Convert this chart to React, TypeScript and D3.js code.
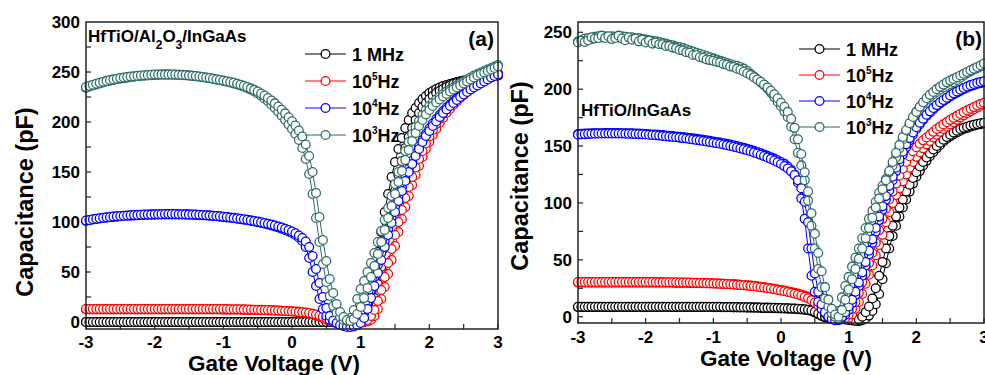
import React from "react";
import * as d3 from "d3";

// gate voltage sweep grid: -3 V .. 3 V, 0.05 V step (121 points)
const gateV = d3.range(121).map((i) => Math.round((-3 + i * 0.05) * 100) / 100);

const freqColors = ["#000000", "#ff0000", "#0000ff", "#2f6d67"];
const legendBase = ["1 MHz", "10", "10", "10"];
const legendSup = ["", "5", "4", "3"];
const legendTail = ["", "Hz", "Hz", "Hz"];

const xTicks = [-3, -2, -1, 0, 1, 2, 3];
const aYTicks = [0, 50, 100, 150, 200, 250, 300];
const bYTicks = [0, 50, 100, 150, 200, 250];

// [text, isSubscript]
const aNote: [string, boolean][] = [["HfTiO/Al", false], ["2", true], ["O", false], ["3", true], ["/InGaAs", false]];
const bNote: [string, boolean][] = [["HfTiO/InGaAs", false]];

// ---------- panel (a): HfTiO/Al2O3/InGaAs ----------
const aMHzUp = [
  0, 0, 0, 0, 0, 0, 0, 0, 0, 0, 0, 0, 0, 0, 0, 0, 0, 0, 0, 0,
  0, 0, 0, 0, 0, 0, 0, 0, 0, 0, 0, 0, 0, 0, 0, 0, 0, 0, 0, 0,
  0, 0, 0, 0, 0, 0, 0, 0, 0, 0, 0, 0, 0, 0, 0, 0, 0, 0, 0, 0,
  0, 0, 0, 0, 0, 0, 0, 0, 0, 0, 0, 0, 0, 0, -0.5, -0.5, -0.5, -0.5, -0.5, -0.5,
  0, 5, 18, 33, 50, 70, 90, 110, 128, 145, 160, 173, 184, 194, 202, 209, 214, 219, 223, 226,
  229, 231, 233, 234.5, 236, 237, 238, 239, 240, 240.8, 241.5, 242, 242.5, 243, 243.5, 244, 244.5, 245, 245.5, 246,
  246.5,
];
const aMHzDown = [
  0, 0, 0, 0, 0, 0, 0, 0, 0, 0, 0, 0, 0, 0, 0, 0, 0, 0, 0, 0,
  0, 0, 0, 0, 0, 0, 0, 0, 0, 0, 0, 0, 0, 0, 0, 0, 0, 0, 0, 0,
  0, 0, 0, 0, 0, 0, 0, 0, 0, 0, 0, 0, 0, 0, 0, 0, 0, 0, 0, 0,
  0, 0, 0, 0, 0, 0, 0, 0, 0, 0, 0, 0, 0, 0, -0.5, -0.5, -0.5, -0.5, -0.5, -0.5,
  -0.5, 0, 3, 12, 24, 38, 55, 74, 94, 113, 131, 147, 161, 174, 185, 194, 202, 209, 215, 219,
  223, 226, 229, 231, 233, 235, 236.5, 238, 239, 240, 241, 241.8, 242.4, 243, 243.5, 244, 244.5, 245, 245.5, 246,
  246.5,
];
const a100kUp = [
  12.5, 12.5, 12.5, 12.5, 12.5, 12.5, 12.5, 12.5, 12.5, 12.5, 12.5, 12.5, 12.5, 12.5, 12.5, 12.5, 12.5, 12.5, 12.5, 12.5,
  12.5, 12.5, 12.5, 12.5, 12.5, 12.5, 12.5, 12.5, 12.5, 12.5, 12.5, 12.5, 12.5, 12.5, 12.5, 12.5, 12.5, 12.5, 12.5, 12.5,
  12.4, 12.4, 12.3, 12.3, 12.2, 12.2, 12.1, 12.1, 12, 12, 11.9, 11.8, 11.7, 11.6, 11.5, 11.4, 11.3, 11.1, 10.9, 10.7,
  10.5, 10.2, 9.9, 9.5, 9, 8.4, 7.6, 6.6, 5.4, 4, 2.6, 1.4, 0.6, 0.1, 0, -0.3, -0.5, -0.6, -0.6, -0.5,
  -0.3, 0, 0.5, 2, 6, 13, 23, 35, 48, 62, 76, 90, 103, 115, 126, 137, 147, 156, 165, 173,
  180, 187, 193, 199, 204, 209, 213, 217, 220.5, 224, 227, 230, 232.5, 235, 237, 239, 241, 243, 244.5, 246,
  247.5,
];
const a100kDown = [
  13, 13, 13, 13, 13, 13, 13, 13, 13, 13, 13, 13, 13, 13, 13, 13, 13, 13, 13, 13,
  13, 13, 13, 13, 13, 13, 13, 13, 13, 13, 13, 13, 13, 13, 13, 13, 13, 13, 13, 13,
  12.9, 12.9, 12.8, 12.8, 12.7, 12.7, 12.6, 12.5, 12.4, 12.3, 12.2, 12.1, 12, 11.9, 11.8, 11.6, 11.4, 11.2, 11, 10.8,
  10.6, 10.4, 10.1, 9.8, 9.4, 8.9, 8.3, 7.5, 6.5, 5.2, 3.8, 2.4, 1.2, 0.4, 0, -0.3, -0.5, -0.6, -0.6, -0.5,
  -0.2, 0.5, 2, 6, 12, 21, 32, 45, 59, 73, 87, 100, 112, 124, 135, 145, 154.5, 163, 171, 178.5,
  185.5, 192, 198, 203.5, 208.5, 213, 217, 220.5, 224, 227, 230, 232.5, 235, 237, 239, 241, 243, 244.5, 246, 247.5,
  249,
];
const a10kUp = [
  101, 101.8, 102.5, 103, 103.5, 104, 104.4, 104.8, 105.1, 105.4, 105.7, 106, 106.2, 106.4, 106.6, 106.8, 107, 107.1, 107.2, 107.3,
  107.4, 107.5, 107.5, 107.6, 107.6, 107.6, 107.6, 107.5, 107.5, 107.4, 107.3, 107.2, 107.1, 106.9, 106.7, 106.5, 106.3, 106, 105.7, 105.4,
  105, 104.6, 104.2, 103.8, 103.3, 102.8, 102.3, 101.7, 101.1, 100.5, 99.8, 99.1, 98.3, 97.5, 96.6, 95.6, 94.5, 93.3, 92, 90.6,
  89, 87, 84.5, 81, 75, 64, 50, 36, 23, 13, 6, 2, 0, -1.5, -2.5, -3.5, -4, -4, -3.5, -1.5,
  2, 9, 20, 32, 45, 57, 69, 81, 93, 104, 115, 125, 135, 144, 153, 161, 168.5, 175.5, 182, 188,
  193.5, 198.5, 203, 207, 211, 214.5, 217.5, 220.5, 223.5, 226, 228.5, 231, 233.5, 235.5, 237.5, 239.5, 241.5, 243.5, 245, 246.5,
  248,
];
const a10kDown = [
  101.5, 102, 102.8, 103.3, 103.8, 104.3, 104.7, 105, 105.4, 105.7, 106, 106.2, 106.5, 106.7, 106.9, 107.1, 107.3, 107.4, 107.5, 107.6,
  107.7, 107.8, 107.8, 107.9, 107.9, 107.9, 107.9, 107.8, 107.8, 107.7, 107.6, 107.5, 107.4, 107.2, 107, 106.8, 106.6, 106.3, 106, 105.7,
  105.3, 104.9, 104.5, 104.1, 103.7, 103.2, 102.7, 102.2, 101.6, 101, 100.4, 99.7, 99, 98.2, 97.4, 96.5, 95.5, 94.4, 93.2, 91.9,
  90.5, 88.7, 86.5, 84, 80.5, 75, 66, 53, 39, 25, 14, 6, 1.5, -1, -3, -4, -5, -5, -4.5, -3,
  -1, 4, 13, 24, 36, 49, 62, 75, 87, 99, 110, 121, 131, 141, 150, 158, 166, 173, 180, 186,
  191, 196, 200.5, 205, 209, 212.5, 216, 219, 222, 225, 227.5, 230, 232.5, 234.5, 236.5, 238.5, 240.5, 242.5, 244.5, 246,
  247.5,
];
const a1kUp = [
  234, 235.5, 236.5, 237.5, 238.5, 239.5, 240.5, 241.3, 242, 242.7, 243.3, 243.9, 244.4, 244.9, 245.3, 245.7, 246, 246.3, 246.6, 246.8,
  247, 247.1, 247.2, 247.3, 247.3, 247.3, 247.2, 247.1, 246.9, 246.7, 246.4, 246.1, 245.7, 245.3, 244.8, 244.3, 243.7, 243.1, 242.4, 241.7,
  241, 240.3, 239.5, 238.6, 237.6, 236.5, 235.2, 233.8, 232.2, 230.5, 228.5, 226.2, 223.6, 220.7, 217.5, 214, 210.3, 206.3, 202, 197.5,
  193, 188, 182, 174, 163, 148, 128, 104, 80, 58, 40, 26, 16, 9, 5, 2, 1, 4, 12, 23,
  33, 41, 50, 59, 69, 80, 91, 102, 114, 126, 138, 150, 161, 171, 180, 188, 195, 201, 207, 212,
  216, 219.5, 222.5, 225.5, 228, 230.5, 232.5, 234.5, 236.5, 238.5, 240.5, 242.5, 244.5, 246.5, 248, 249.5, 251, 252.5, 254, 255.5,
  257,
];
const a1kDown = [
  235, 236.3, 237.3, 238.3, 239.3, 240.3, 241.1, 241.9, 242.6, 243.3, 243.9, 244.5, 245, 245.4, 245.8, 246.2, 246.5, 246.8, 247, 247.2,
  247.4, 247.5, 247.6, 247.6, 247.6, 247.5, 247.4, 247.3, 247.1, 246.9, 246.6, 246.3, 245.9, 245.5, 245, 244.5, 243.9, 243.3, 242.7, 242,
  241.4, 240.7, 240, 239.2, 238.3, 237.3, 236.2, 235, 233.6, 232.1, 230.4, 228.5, 226.4, 224, 221.4, 218.6, 215.5, 212.2, 208.6, 204.8,
  200.8, 196.5, 191.5, 185.5, 177.5, 166, 150, 129, 105, 82, 61, 43, 29, 18, 10, 5, 2, 1, 3, 8,
  15, 24, 34, 45, 56, 68, 80, 92, 104, 116, 128, 140, 151, 162, 172, 181, 189, 196, 202, 207.5,
  212, 216, 219.5, 222.5, 225.5, 228, 230.5, 232.5, 234.5, 236.5, 238.5, 240.5, 242.5, 244.5, 246.5, 248, 249.5, 251, 252.5, 254,
  255.5,
];

// ---------- panel (b): HfTiO/InGaAs ----------
const bMHzUp = [
  8.5, 8.5, 8.5, 8.5, 8.5, 8.5, 8.5, 8.5, 8.5, 8.5, 8.5, 8.5, 8.5, 8.5, 8.5, 8.5, 8.5, 8.5, 8.5, 8.5,
  8.5, 8.5, 8.5, 8.5, 8.5, 8.5, 8.5, 8.5, 8.5, 8.5, 8.5, 8.5, 8.5, 8.5, 8.5, 8.5, 8.5, 8.5, 8.5, 8.5,
  8.4, 8.4, 8.4, 8.3, 8.3, 8.3, 8.2, 8.2, 8.1, 8.1, 8, 8, 7.9, 7.9, 7.8, 7.7, 7.7, 7.6, 7.5, 7.4,
  7.3, 7.2, 7.1, 7, 6.9, 6.7, 6.5, 6.2, 5.8, 5, 3.8, 2.2, 0.7, -0.5, -1.2, -1.6, -1.8, -2, -2, -2.2,
  -2.5, -3, -3.5, -4, -3, -1.5, 1, 5, 11, 20, 33, 47, 60, 71, 80, 88, 96, 103, 110, 117,
  123, 128, 133, 137, 141, 144.5, 148, 151, 154, 156.5, 158.5, 160.5, 162, 163.5, 165, 166, 167, 168, 168.7, 169.3,
  170,
];
const bMHzDown = [
  8.8, 8.8, 8.8, 8.8, 8.8, 8.8, 8.8, 8.8, 8.8, 8.8, 8.8, 8.8, 8.8, 8.8, 8.8, 8.8, 8.8, 8.8, 8.8, 8.8,
  8.8, 8.8, 8.8, 8.8, 8.8, 8.8, 8.8, 8.8, 8.8, 8.8, 8.8, 8.8, 8.8, 8.8, 8.8, 8.8, 8.8, 8.8, 8.8, 8.8,
  8.7, 8.7, 8.7, 8.6, 8.6, 8.6, 8.5, 8.5, 8.4, 8.4, 8.3, 8.3, 8.2, 8.2, 8.1, 8, 8, 7.9, 7.8, 7.7,
  7.6, 7.5, 7.4, 7.3, 7.2, 7, 6.8, 6.5, 6.1, 5.4, 4.3, 2.8, 1.2, 0, -0.9, -1.4, -1.8, -2, -2.2, -2.4,
  -2.8, -3.2, -3.5, -2.5, 0, 4, 9, 16, 25, 36, 48, 60, 71, 80, 88, 96, 103, 110, 116, 122,
  127, 132, 136, 140, 143.5, 147, 150, 153, 155.5, 158, 160, 162, 163.5, 165, 166, 167, 168, 168.7, 169.3, 170,
  170.5,
];
const b100kUp = [
  30, 30, 30, 30, 30, 30, 30, 30, 30, 30, 30, 30, 30, 30, 30, 30, 30, 30, 30, 30,
  30, 30, 30, 30, 30, 30, 29.9, 29.9, 29.9, 29.8, 29.8, 29.8, 29.7, 29.7, 29.6, 29.6, 29.5, 29.5, 29.4, 29.3,
  29.2, 29.1, 29, 28.9, 28.8, 28.6, 28.4, 28.2, 28, 27.8, 27.6, 27.4, 27.1, 26.8, 26.4, 26, 25.5, 25, 24.5, 24,
  23.5, 23, 22.4, 21.8, 21.1, 20.4, 19.6, 18.7, 17.6, 16.3, 14.5, 12, 9, 6, 3.5, 1.5, 0, -1, -1.5, -1.5,
  -1, 2, 7, 13, 20, 29, 37, 45, 54, 63, 72, 83, 92, 100, 107, 113, 119, 125, 131, 136,
  140.5, 144.5, 148, 151.5, 154.5, 157.5, 160, 162.5, 165, 167, 169, 171, 173, 175, 177, 178.8, 180.5, 182.2, 183.8, 185.4,
  187,
];
const b100kDown = [
  30.5, 30.5, 30.5, 30.5, 30.5, 30.5, 30.5, 30.5, 30.5, 30.5, 30.5, 30.5, 30.5, 30.5, 30.5, 30.5, 30.5, 30.5, 30.5, 30.5,
  30.5, 30.5, 30.5, 30.4, 30.4, 30.4, 30.3, 30.3, 30.2, 30.2, 30.1, 30.1, 30, 30, 29.9, 29.8, 29.7, 29.6, 29.5, 29.4,
  29.3, 29.2, 29.1, 29, 28.8, 28.6, 28.4, 28.2, 28, 27.7, 27.4, 27.1, 26.8, 26.4, 26, 25.6, 25.1, 24.6, 24.1, 23.6,
  23, 22.4, 21.8, 21.1, 20.3, 19.5, 18.6, 17.5, 16.2, 14.6, 12.5, 10, 7, 4, 1.5, 0, -1, -1.5, -1.5, -1,
  2, 7, 13, 21, 30, 38, 47, 56, 65, 76, 86, 95, 103, 110, 117, 124, 130, 136, 141, 145.5,
  149, 152, 155, 157.5, 160, 162.5, 165, 167, 169, 171, 173, 174.8, 176.5, 178.2, 179.8, 181.3, 182.8, 184.2, 185.6, 187,
  188,
];
const b10kUp = [
  160.5, 160.7, 160.9, 161, 161.1, 161.2, 161.3, 161.3, 161.4, 161.4, 161.4, 161.4, 161.4, 161.3, 161.3, 161.2, 161.1, 161, 160.9, 160.8,
  160.6, 160.4, 160.2, 160, 159.8, 159.6, 159.3, 159, 158.7, 158.4, 158.1, 157.8, 157.5, 157.1, 156.7, 156.3, 155.9, 155.5, 155, 154.5,
  154, 153.5, 153, 152.5, 152, 151.3, 150.6, 149.9, 149.2, 148.4, 147.6, 146.7, 145.8, 144.8, 143.7, 142.6, 141.4, 140.2, 138.9, 137.5,
  136, 134.3, 132, 129, 125, 118, 104, 86, 60, 36, 22, 13, 7, 3, 0, -2, -3, -3, -1, 2,
  6, 12, 19, 27, 36, 45, 55, 65, 75, 85, 94, 103, 111, 120, 128, 135.5, 142.5, 149, 155, 160,
  165, 169, 173, 176.5, 179.5, 182.5, 185, 187.5, 189.5, 191.5, 193.5, 195.3, 197, 198.5, 200, 201.3, 202.5, 203.5, 204.5, 205.3,
  206,
];
const b10kDown = [
  160, 160.3, 160.5, 160.7, 160.8, 160.9, 161, 161, 161.1, 161.1, 161.1, 161.1, 161, 161, 160.9, 160.8, 160.7, 160.6, 160.5, 160.3,
  160.1, 159.9, 159.7, 159.5, 159.2, 158.9, 158.6, 158.3, 158, 157.7, 157.4, 157, 156.6, 156.2, 155.8, 155.4, 155, 154.5, 154, 153.5,
  153, 152.5, 152, 151.4, 150.8, 150.1, 149.4, 148.7, 147.9, 147.1, 146.3, 145.4, 144.4, 143.4, 142.3, 141.2, 140, 138.7, 137.3, 135.8,
  134.2, 132.4, 130.3, 127.8, 124.5, 120, 113, 101, 83, 60, 38, 22, 11, 4, 0, -2, -3, -2.5, 0, 4,
  9, 15, 22, 30, 39, 48, 58, 68, 78, 88, 97, 106, 115, 123, 131, 138.5, 145, 151.5, 157, 162,
  166.5, 170.5, 174, 177.5, 180.5, 183.5, 186, 188.5, 190.5, 192.5, 194.5, 196.3, 198, 199.5, 201, 202.3, 203.5, 204.5, 205.5, 206.3,
  207,
];
const b1kUp = [
  242, 243, 244.5, 245, 244, 246, 246.5, 245.5, 246.5, 245.5, 246.5, 246, 245.5, 246.5, 246, 245, 245.5, 244.5, 245, 244,
  243.5, 243, 242.5, 242, 241.5, 240.5, 240, 239, 238.5, 237.5, 237, 236, 235, 234, 233, 232, 231, 230, 229, 228,
  227, 226, 225, 224, 223, 222, 221, 220.5, 219.5, 218, 216, 213.5, 211, 208.5, 206, 203.5, 200.5, 197, 193, 189,
  185, 180.5, 175.5, 167, 156, 144, 133, 120, 102, 80, 60, 42, 26, 16, 9, 3, 0, 5, 17, 27,
  35, 44, 52, 60, 69, 78, 86, 93, 101, 109, 115, 121, 127, 133, 140, 148, 156, 163, 169, 175,
  180, 184, 187.5, 190.5, 193, 195.5, 197.5, 199.5, 201.5, 203, 204.5, 206, 208, 210, 212, 214, 215.5, 217, 218.5, 220,
  221.5,
];
const b1kDown = [
  241, 242.5, 241.5, 243, 245.5, 244.5, 245, 247, 245, 246.5, 244, 245, 247, 244.5, 243, 245.5, 243.5, 244.5, 242, 243.5,
  241, 242.5, 240, 241, 239.5, 239.5, 238, 238, 236.5, 236, 234.5, 234, 232.5, 232, 230, 230, 228, 227.5, 226, 225.5,
  225, 224, 223.5, 222, 221.5, 220, 219.5, 218, 217, 215.5, 214, 212.5, 210.5, 208.5, 206.5, 204, 201.5, 198.5, 195.5, 192,
  188, 184.5, 180, 174, 166, 156, 143, 127, 110, 91, 73, 56, 40, 26, 15, 7, 2, 0, 6, 15,
  24, 33, 42, 51, 60, 69, 78, 87, 96, 104, 112, 120, 128, 136, 144, 151, 158, 164, 170, 175.5,
  180, 184.5, 188.5, 192, 195, 197.5, 200, 202, 204, 206, 207.5, 209, 210.5, 212, 213.5, 215, 216.5, 218, 219.5, 221,
  222.5,
];

const FONT = "'Liberation Sans', Arial, Helvetica, sans-serif";

type PanelProps = {
  left: number; right: number; top: number; bottom: number;
  yDomain: [number, number];
  yTicks: number[];
  curves: number[][][];
  note: [string, boolean][];
  noteX: number; noteY: number;
  letter: string; letterX: number; letterY: number;
  legX: number; legY: number; legStep: number;
  yTitleX: number; yTitleY: number;
  xTitleX: number; xTitleY: number;
  xTickY: number; yTickX: number;
};

function Panel(p: PanelProps) {
  const x = d3.scaleLinear().domain([-3, 3]).range([p.left, p.right]);
  const y = d3.scaleLinear().domain(p.yDomain).range([p.bottom, p.top]);
  const path = d3.line<number>().x((_, i) => x(gateV[i])).y((d) => y(d));

  const xMinor = d3.range(-3, 3.01, 0.5);
  const yMinor = d3.range(0, p.yDomain[1], 25);

  return (
    <g fontFamily={FONT} fontWeight="bold">
      {/* ticks, pointing in */}
      {xMinor.map((v) => (
        <line key={"xt" + v} x1={x(v)} x2={x(v)} y1={p.bottom} y2={p.bottom - 5} stroke="#222" strokeWidth={1.2} />
      ))}
      {yMinor.map((v) => (
        <line key={"yt" + v} x1={p.left} x2={p.left + 5} y1={y(v)} y2={y(v)} stroke="#222" strokeWidth={1.2} />
      ))}

      {/* data: each frequency has two sweeps */}
      {p.curves.map((sweeps, fi) =>
        sweeps.map((vals, si) => (
          <g key={"c" + fi + "-" + si}>
            <path d={path(vals) || ""} fill="none" stroke={freqColors[fi]} strokeWidth={1} />
            {vals.map((v, i) => (
              <circle key={i} cx={x(gateV[i])} cy={y(v)} r={4.4} fill="#fff" stroke={freqColors[fi]} strokeWidth={1.3} />
            ))}
          </g>
        ))
      )}

      <rect x={p.left} y={p.top} width={p.right - p.left} height={p.bottom - p.top} fill="none" stroke="#222" strokeWidth={1.5} />

      {/* tick labels */}
      {xTicks.map((v) => (
        <text key={"xl" + v} x={x(v)} y={p.xTickY} textAnchor="middle" fontSize={17}>
          {v}
        </text>
      ))}
      {p.yTicks.map((v) => (
        <text key={"yl" + v} x={p.yTickX} y={y(v) + 6} textAnchor="end" fontSize={17}>
          {v}
        </text>
      ))}

      {/* axis titles */}
      <text x={p.xTitleX} y={p.xTitleY} textAnchor="middle" fontSize={22.5}>
        Gate Voltage (V)
      </text>
      <text transform={`translate(${p.yTitleX},${p.yTitleY}) rotate(-90)`} textAnchor="middle" fontSize={23.5}>
        Capacitance (pF)
      </text>

      {/* sample note */}
      <text x={p.noteX} y={p.noteY} fontSize={17}>
        {p.note.map(([t, sub], i) => (
          <tspan key={i} fontSize={sub ? 12 : 17} dy={sub ? 7 : i > 0 ? -7 : 0}>
            {t}
          </tspan>
        ))}
      </text>

      <text x={p.letterX} y={p.letterY} textAnchor="end" fontSize={21}>
        {p.letter}
      </text>

      {/* legend */}
      {freqColors.map((c, i) => {
        const ly = p.legY + i * p.legStep;
        return (
          <g key={"lg" + i}>
            <line x1={p.legX} x2={p.legX + 41} y1={ly} y2={ly} stroke={c} strokeWidth={1.2} />
            <circle cx={p.legX + 20.5} cy={ly} r={4.4} fill="#fff" stroke={c} strokeWidth={1.3} />
            <text x={p.legX + 47} y={ly + 6.5} fontSize={18}>
              {legendBase[i]}
              {legendSup[i] && (
                <tspan fontSize={10} dy={-7.5}>
                  {legendSup[i]}
                </tspan>
              )}
              {legendTail[i] && <tspan dy={7.5}>{legendTail[i]}</tspan>}
            </text>
          </g>
        );
      })}
    </g>
  );
}

export default function App() {
  return (
    <svg width={985} height={375} style={{ position: "absolute", left: 0, top: 0, background: "#fff" }}>
      <rect width={985} height={375} fill="#fff" />
      <Panel
        left={86} right={498} top={22} bottom={329}
        yDomain={[-7, 300]} yTicks={aYTicks}
        curves={[[aMHzUp, aMHzDown], [a100kUp, a100kDown], [a10kUp, a10kDown], [a1kUp, a1kDown]]}
        note={aNote} noteX={88} noteY={42}
        letter="(a)" letterX={494} letterY={46}
        legX={305} legY={54} legStep={27}
        yTitleX={33} yTitleY={202}
        xTitleX={274} xTitleY={371}
        xTickY={348} yTickX={80}
      />
      <Panel
        left={578} right={984} top={22} bottom={323}
        yDomain={[-5.5, 259]} yTicks={bYTicks}
        curves={[[bMHzUp, bMHzDown], [b100kUp, b100kDown], [b10kUp, b10kDown], [b1kUp, b1kDown]]}
        note={bNote} noteX={581} noteY={116}
        letter="(b)" letterX={982} letterY={46}
        legX={799} legY={49} legStep={26}
        yTitleX={528} yTitleY={176}
        xTitleX={786} xTitleY={366}
        xTickY={343} yTickX={572}
      />
    </svg>
  );
}
